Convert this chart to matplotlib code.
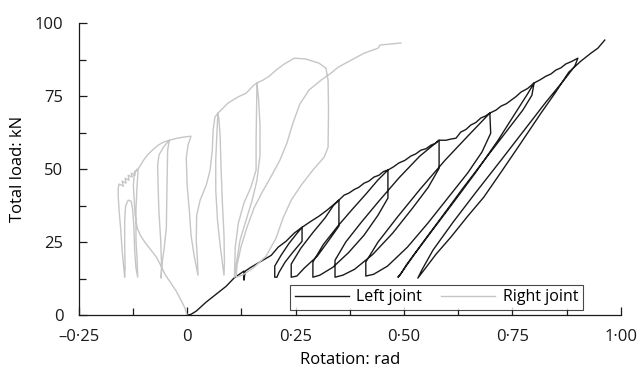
import matplotlib
matplotlib.use("Agg")
import matplotlib.pyplot as plt
from matplotlib.ticker import FixedLocator, MultipleLocator

plt.rcParams['font.family'] = ['Open Sans', 'DejaVu Sans']

# Left joint: rotation (rad), total load (kN)
left_rot = [
    0.000, 0.009, 0.021, 0.044, 0.067, 0.090, 0.108, 0.124, 0.131, 0.131, 0.134,
    0.147, 0.171, 0.194, 0.210, 0.228, 0.247, 0.265,
    0.265, 0.244, 0.226, 0.212, 0.207, 0.202, 0.202, 0.217, 0.235, 0.251, 0.265,
    0.286, 0.304, 0.323, 0.339, 0.350,
    0.350, 0.327, 0.300, 0.270, 0.253, 0.240, 0.240, 0.262, 0.290, 0.318, 0.337, 0.350,
    0.362, 0.373, 0.385, 0.396, 0.408, 0.419, 0.431, 0.442, 0.453, 0.463,
    0.463, 0.440, 0.408, 0.372, 0.336, 0.306, 0.290, 0.290, 0.314, 0.348, 0.380,
    0.413, 0.440, 0.463,
    0.476, 0.488, 0.502, 0.516, 0.527, 0.539, 0.551, 0.562, 0.572, 0.581,
    0.581, 0.556, 0.520, 0.474, 0.428, 0.386, 0.359, 0.341, 0.341, 0.366, 0.401,
    0.443, 0.489, 0.536, 0.581,
    0.597, 0.608, 0.620, 0.631, 0.643, 0.654, 0.666, 0.677, 0.688, 0.698,
    0.700, 0.680, 0.647, 0.601, 0.555, 0.508, 0.462, 0.430, 0.412, 0.412, 0.440,
    0.486, 0.537, 0.595, 0.649, 0.698,
    0.712, 0.724, 0.736, 0.747, 0.758, 0.770, 0.785, 0.800,
    0.795, 0.774, 0.735, 0.689, 0.636, 0.585, 0.539, 0.505, 0.491, 0.486, 0.495,
    0.521, 0.562, 0.613, 0.666, 0.717, 0.758, 0.786, 0.800,
    0.814, 0.827, 0.839, 0.850, 0.862, 0.873, 0.887, 0.901,
    0.894, 0.869, 0.827, 0.774, 0.724, 0.666, 0.613, 0.567, 0.541, 0.532, 0.546,
    0.574, 0.608, 0.647, 0.684, 0.724, 0.763, 0.816, 0.850, 0.880, 0.908, 0.931,
    0.947, 0.959, 0.963,
]
left_load = [
    0.0, 0.3, 1.4, 4.5, 7.2, 9.9, 12.7, 14.4, 15.1, 12.0, 15.1,
    16.4, 18.5, 20.5, 23.3, 25.3, 28.1, 30.1,
    25.3, 21.6, 18.2, 14.7, 13.0, 13.0, 16.8, 20.6, 24.6, 27.6, 30.1,
    32.2, 33.9, 36.0, 38.0, 39.4,
    30.5, 25.7, 20.2, 16.1, 13.4, 13.0, 17.5, 22.9, 28.3, 33.3, 37.5, 39.4,
    41.1, 41.8, 43.0, 43.8, 45.2, 45.9, 47.3, 47.9, 49.2, 49.7,
    40.1, 34.2, 27.4, 21.4, 16.4, 13.7, 13.0, 18.2, 24.2, 30.6, 36.1,
    41.6, 46.3, 49.7,
    50.8, 52.1, 53.0, 54.5, 55.2, 56.5, 57.0, 58.2, 58.8, 59.9,
    50.3, 43.8, 36.7, 28.1, 20.8, 15.7, 13.7, 13.0, 18.8, 25.1, 31.7,
    39.2, 47.1, 54.4, 59.9,
    59.9, 60.3, 60.6, 62.7, 63.6, 65.1, 66.0, 67.5, 68.2, 69.2,
    62.3, 55.9, 48.7, 40.1, 31.5, 23.3, 16.8, 14.0, 13.4, 18.2, 25.0,
    33.8, 43.1, 53.1, 61.6, 69.2,
    70.2, 71.6, 72.4, 73.6, 74.8, 76.4, 77.6, 79.5,
    75.3, 70.2, 62.7, 53.8, 43.5, 33.2, 24.0, 17.1, 13.7, 13.0, 14.7,
    20.2, 28.4, 38.4, 49.0, 59.9, 69.5, 76.0, 79.5,
    80.6, 81.8, 82.6, 83.9, 84.7, 86.0, 86.9, 88.0,
    85.3, 80.5, 72.9, 62.7, 53.1, 42.1, 31.8, 22.3, 15.4, 12.7, 15.4,
    20.9, 26.7, 33.9, 40.4, 49.0, 57.5, 69.2, 76.4, 83.2, 87.0, 89.7,
    91.4, 93.5, 94.2,
]

# Right joint: rotation (rad), total load (kN)
right_rot = [
    0.000, -0.005, -0.014, -0.025, -0.039, -0.051, -0.060, -0.071, -0.085, -0.099,
    -0.108, -0.115, -0.120, -0.122, -0.124, -0.122, -0.115,
    -0.122, -0.120, -0.129, -0.127, -0.136, -0.134, -0.143, -0.141, -0.150, -0.147,
    -0.157, -0.159,
    -0.159, -0.157, -0.153, -0.150, -0.146, -0.144,
    -0.143, -0.144, -0.144, -0.142, -0.136, -0.129, -0.126, -0.123, -0.121, -0.118, -0.114,
    -0.115, -0.118, -0.118, -0.116, -0.114, -0.113,
    -0.106, -0.099, -0.090, -0.078, -0.067, -0.055, -0.041,
    -0.045, -0.046, -0.047, -0.048, -0.053, -0.058, -0.060,
    -0.059, -0.061, -0.065, -0.067, -0.068, -0.065, -0.055, -0.041,
    -0.023, -0.007, 0.009,
    0.002, -0.002, 0.000, 0.005, 0.009, 0.016, 0.025,
    0.024, 0.021, 0.022, 0.030, 0.044, 0.053, 0.058, 0.060, 0.064, 0.071,
    0.069, 0.066, 0.066, 0.070, 0.076, 0.081, 0.085,
    0.086, 0.085, 0.081, 0.078, 0.076, 0.073, 0.071,
    0.078, 0.094, 0.117, 0.136, 0.154, 0.161,
    0.160, 0.159, 0.159, 0.147, 0.131, 0.118, 0.111, 0.109,
    0.114, 0.122, 0.136, 0.150, 0.161, 0.168, 0.168, 0.165, 0.161,
    0.175, 0.189, 0.205, 0.224, 0.247, 0.274, 0.304, 0.320,
    0.325, 0.326, 0.325, 0.316, 0.290, 0.263, 0.240, 0.221, 0.205, 0.182, 0.152,
    0.127, 0.113,
    0.115, 0.124, 0.138, 0.154, 0.173, 0.194, 0.214, 0.230, 0.244, 0.260, 0.281,
    0.309, 0.332, 0.348, 0.378, 0.408, 0.440, 0.445, 0.465, 0.493,
]
right_load = [
    0.0, 2.4, 5.1, 8.2, 11.3, 14.0, 16.8, 19.9, 22.6, 25.3,
    27.4, 29.8, 34.2, 39.4, 44.5, 48.3, 50.0,
    49.0, 47.9, 48.6, 47.3, 47.9, 46.2, 46.9, 45.2, 45.9, 44.2,
    44.9, 43.5,
    41.1, 36.0, 29.1, 22.3, 16.1, 13.0,
    16.1, 24.0, 32.5, 37.3, 39.4, 39.0, 36.6, 30.8, 22.3, 16.1, 13.0,
    18.2, 25.7, 36.0, 42.8, 47.9, 50.0,
    51.7, 53.4, 55.1, 56.8, 58.2, 59.2, 59.9,
    56.5, 47.9, 39.4, 29.8, 22.9, 17.5, 12.7,
    17.1, 25.7, 35.3, 44.5, 51.4, 54.8, 57.5, 59.9,
    60.6, 61.0, 61.3,
    58.2, 53.8, 44.5, 36.0, 27.4, 20.5, 13.7,
    18.2, 25.7, 34.2, 39.4, 44.5, 49.7, 56.5, 63.4, 67.8, 69.2,
    63.4, 53.1, 42.8, 32.5, 24.0, 18.2, 13.7,
    18.2, 27.4, 39.4, 51.4, 61.6, 67.5, 69.2,
    70.2, 72.6, 74.7, 76.0, 78.8, 79.5,
    70.2, 59.9, 49.7, 43.8, 38.4, 31.5, 23.3, 13.0,
    18.2, 25.7, 32.5, 39.4, 46.2, 54.8, 65.1, 73.6, 79.5,
    80.5, 81.8, 83.9, 86.0, 88.0, 87.7, 86.3, 84.6,
    80.5, 70.2, 57.5, 54.1, 49.7, 44.5, 39.4, 33.2, 26.4, 20.2, 16.1,
    13.7, 13.0,
    17.1, 23.3, 30.1, 36.6, 42.1, 47.6, 53.1, 58.9, 65.8, 72.3, 77.1,
    80.5, 82.9, 84.9, 87.3, 89.7, 91.4, 92.5, 92.8, 93.2,
]

x_ticks = [-0.25, 0, 0.25, 0.5, 0.75, 1.0]
x_tick_labels = ['\u20130\u00b725', '0', '0\u00b725', '0\u00b750', '0\u00b775', '1\u00b700']
y_ticks = [0, 25, 50, 75, 100]

fig = plt.figure(figsize=(6.4, 3.73), dpi=100)
ax = fig.add_axes([0.123, 0.155, 0.847, 0.783])

ax.plot(left_rot, left_load, color='#1a1a1a', lw=1.0, label='Left joint')
ax.plot(right_rot, right_load, color='#c6c6c6', lw=1.0, label='Right joint')

ax.set_xlim(-0.25, 1.0)
ax.set_ylim(0, 100)
ax.xaxis.set_major_locator(FixedLocator(x_ticks))
ax.set_xticklabels(x_tick_labels)
ax.yaxis.set_major_locator(FixedLocator(y_ticks))
ax.xaxis.set_minor_locator(MultipleLocator(0.125))
ax.yaxis.set_minor_locator(MultipleLocator(12.5))
ax.tick_params(which='both', direction='in', width=0.9, labelsize=12, colors='#1a1a1a')
ax.tick_params(which='major', length=6)
ax.tick_params(which='minor', length=5)
ax.tick_params(axis='x', which='major', pad=10)
ax.tick_params(axis='y', which='major', pad=11)
ax.spines['top'].set_visible(False)
ax.spines['right'].set_visible(False)
for s in ('left', 'bottom'):
    ax.spines[s].set_linewidth(0.9)
    ax.spines[s].set_color('#1a1a1a')

ax.set_xlabel('Rotation: rad', fontsize=12, labelpad=5)
ax.set_ylabel('Total load: kN', fontsize=12, labelpad=6)

leg = ax.legend(loc='lower right', bbox_to_anchor=(0.930, 0.017), ncol=2,
                fontsize=11.5, frameon=True, fancybox=False, borderaxespad=0,
                handlelength=3.4, columnspacing=1.2, borderpad=0.3, handletextpad=0.45)
leg.get_frame().set_edgecolor('#1a1a1a')
leg.get_frame().set_linewidth(0.8)

fig.savefig('out.png', dpi=100)
